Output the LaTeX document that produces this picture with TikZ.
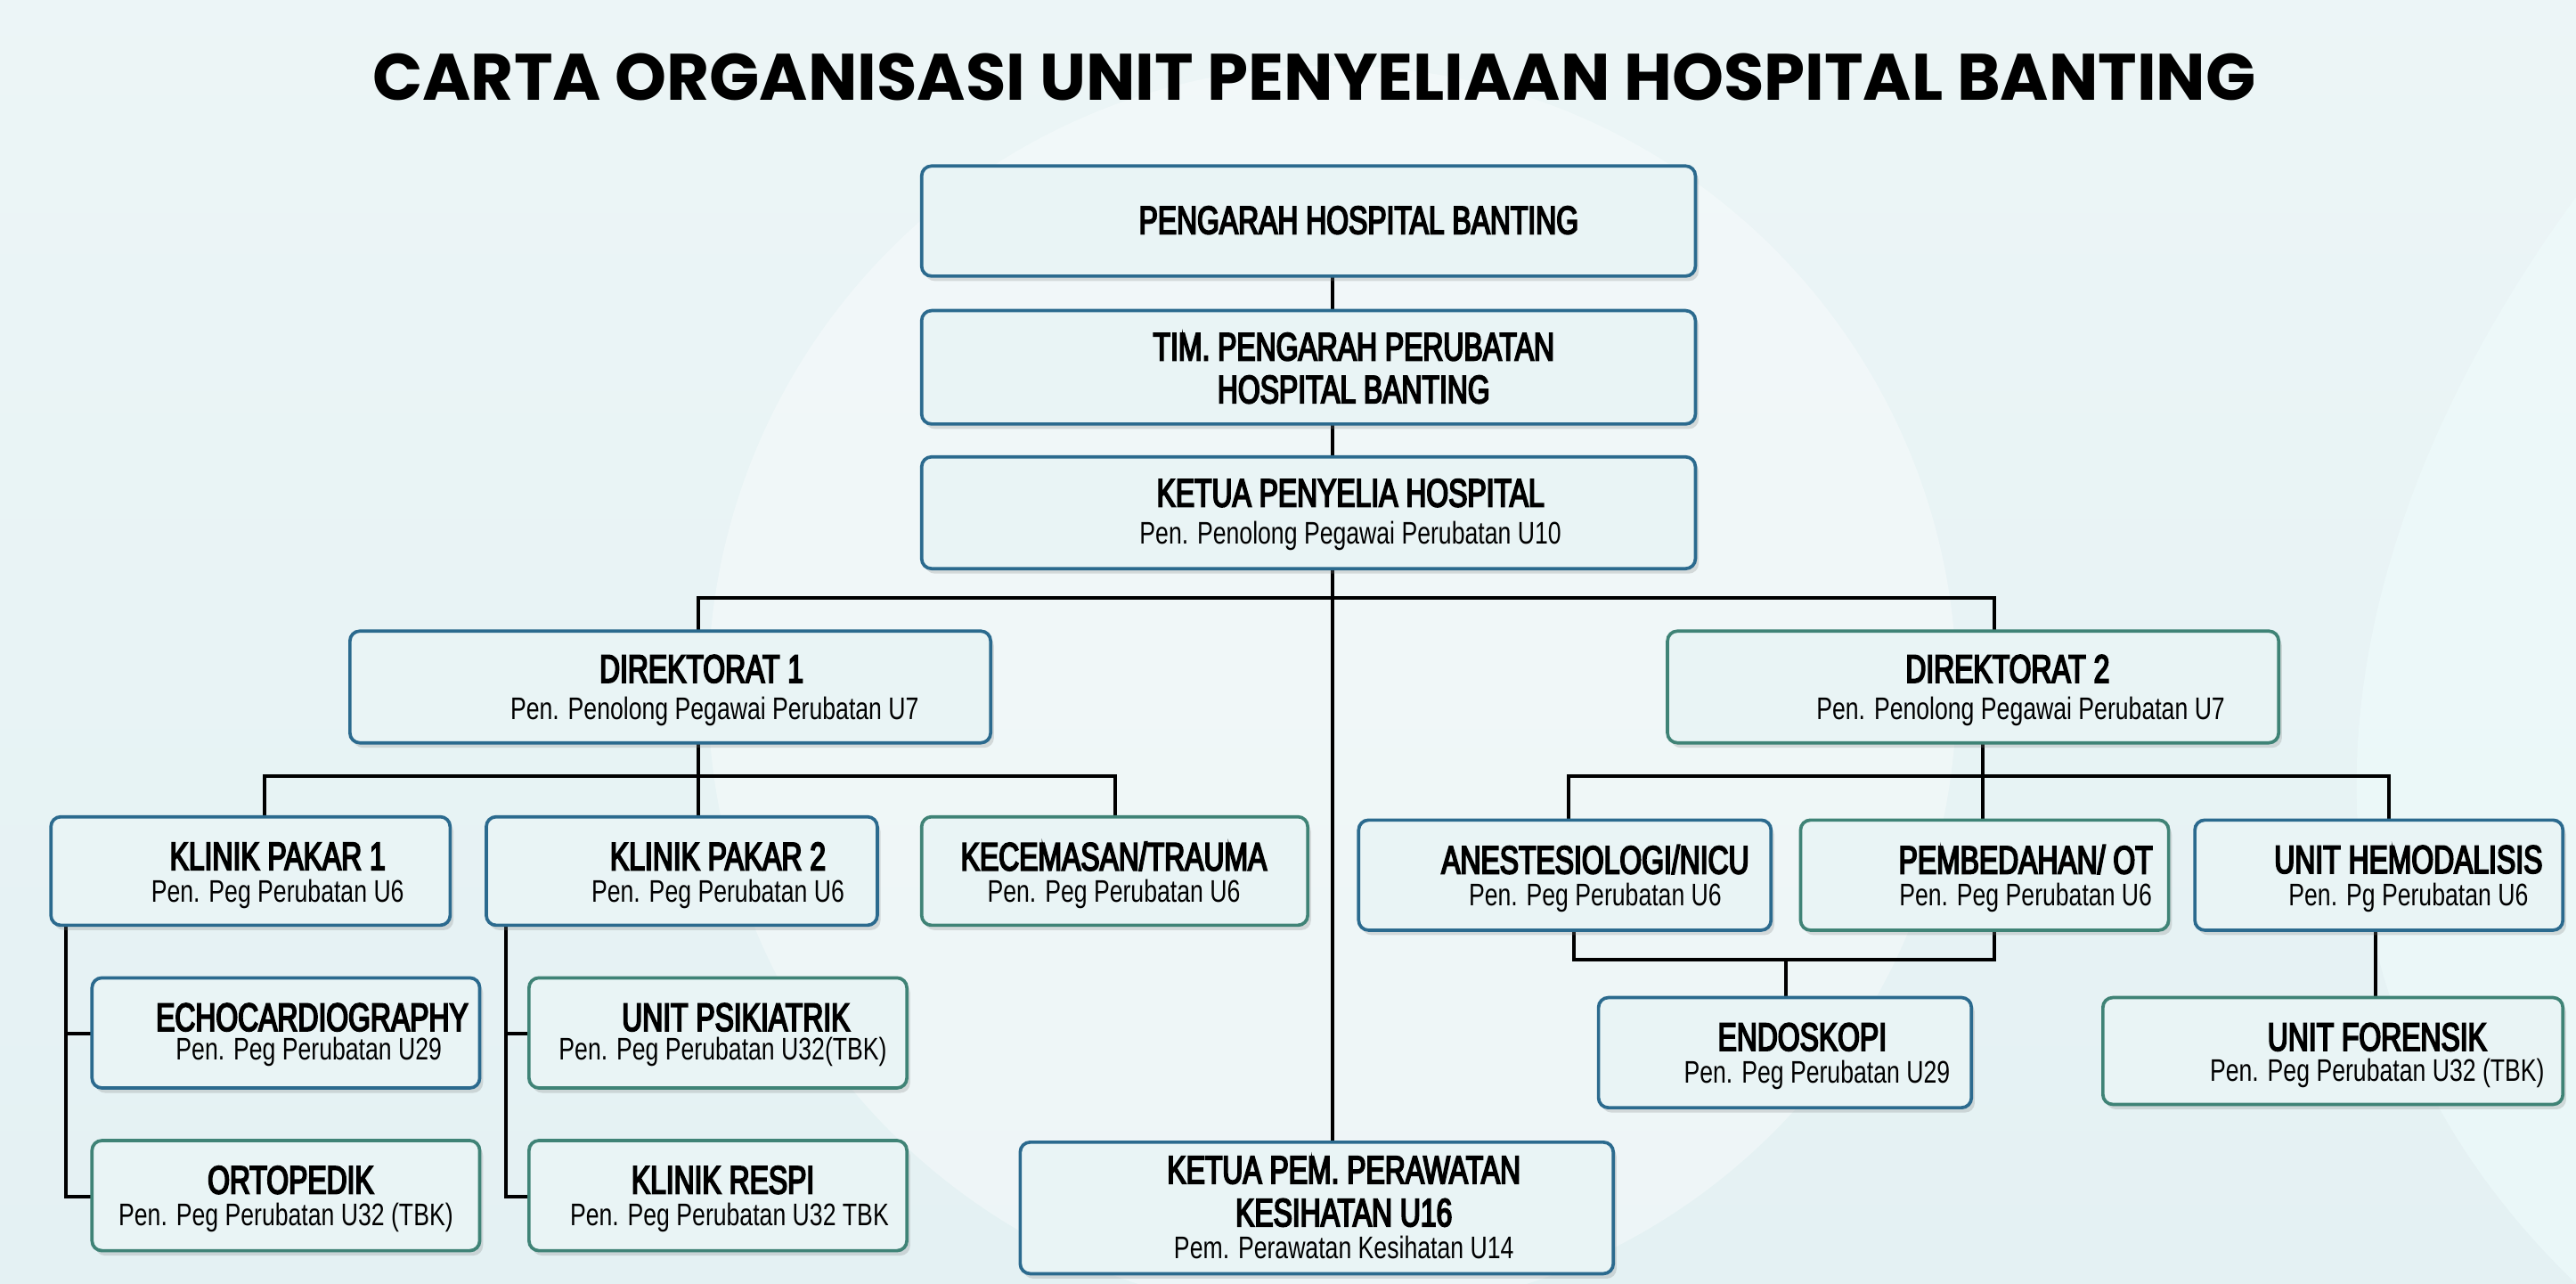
\documentclass[tikz,border=0pt]{standalone}
\usepackage{fontspec}
\setmainfont{Liberation Sans}[FakeStretch=0.76]
\newfontfamily\hdfont{Liberation Sans}[FakeStretch=0.72,FakeBold=4]
\newfontfamily\titlefont{Poppins}
\usetikzlibrary{shadows}
\definecolor{bgc}{HTML}{E4F1F3}
\definecolor{boxf}{HTML}{E9F4F5}
\definecolor{bord}{HTML}{2B6A8E}
\definecolor{bordg}{HTML}{3F8376}
\tikzset{
 box/.style={draw=bord,line width=2pt,fill=boxf,rounded corners=6pt,drop shadow={shadow xshift=2pt,shadow yshift=-3pt,opacity=0.25}},
 gbox/.style={box,draw=bordg},
 hd/.style={font=\hdfont\fontsize{24}{26}\selectfont,align=center},
 sb/.style={font=\fontsize{19}{21}\selectfont,align=center},
 ln/.style={line width=2.2pt,black}
}
\newcommand{\bx}[6]{%
 \path[#2] (#3,#4) rectangle (#5,#6);
}
\begin{document}
\begin{tikzpicture}[x=1pt,y=-1pt]
\useasboundingbox (0,0) rectangle (1568,781);
\shade[top color=bgc!70!white,bottom color=bgc] (0,0) rectangle (1568,781);
\fill[white,opacity=0.35] (811,420) circle (380);
\fill[bgc!80!cyan!20,opacity=0.5] (1568,120) .. controls (1400,350) and (1380,600) .. (1568,781) -- cycle;
\node[font=\titlefont\bfseries\fontsize{40}{42}\selectfont] (title) at (800,47) {CARTA ORGANISASI UNIT PENYELIAAN HOSPITAL BANTING};
% connectors
\draw[ln] (811,168) -- (811,189) (811,258) -- (811,278);
\draw[ln] (811,346) -- (811,695);
\draw[ln] (425,384) |- (1214,364) -- (1214,384);
\draw[ln] (161,497) |- (679,472) -- (679,497) (425,452) -- (425,497);
\draw[ln] (955,499) |- (1454,472) -- (1454,499) (1207,452) -- (1207,499);
\draw[ln] (40,563) |- (56,728) (40,629) -- (56,629);
\draw[ln] (308,563) |- (322,728) (308,629) -- (322,629);
\draw[ln] (958,566) |- (1214,584) -- (1214,566) (1087,584) -- (1087,607);
\draw[ln] (1446,566) -- (1446,607);
% boxes
\bx{a}{box}{561}{101}{1032}{168}
\node[hd] (pa) at (827,134) {PENGARAH HOSPITAL BANTING};
\bx{b}{box}{561}{189}{1032}{258}
\node[hd] (ti) at (824,224) {TIM. PENGARAH PERUBATAN\\HOSPITAL BANTING};
\bx{c}{box}{561}{278}{1032}{346}
\node[hd] (ke) at (822,300) {KETUA PENYELIA HOSPITAL};
\node[sb] (kes) at (822,326) {Pen. Penolong Pegawai Perubatan U10};
\bx{d1}{box}{213}{384}{603}{452}
\node[hd] (d1t) at (427,407) {DIREKTORAT 1};
\node[sb] (d1s) at (435,433) {Pen. Penolong Pegawai Perubatan U7};
\bx{d2}{gbox}{1015}{384}{1387}{452}
\node[hd] (d2t) at (1222,407) {DIREKTORAT 2};
\node[sb] (d2s) at (1230,433) {Pen. Penolong Pegawai Perubatan U7};
\newcommand{\ub}[8]{\bx{#1}{#2}{#3}{#4}{#5}{#6}
 \node[hd] (#1t) at ({#7},{#4+24}) {#8};}
\ub{k1}{box}{31}{497}{274}{563}{169}{KLINIK PAKAR 1}
\node[sb] (k1s) at (169,544) {Pen. Peg Perubatan U6};
\ub{k2}{box}{296}{497}{534}{563}{437}{KLINIK PAKAR 2}
\node[sb] (k2s) at (437,544) {Pen. Peg Perubatan U6};
\ub{kc}{gbox}{561}{497}{796}{563}{678}{KECEMASAN/TRAUMA}
\node[sb] (kcs) at (678,544) {Pen. Peg Perubatan U6};
\ub{ec}{box}{56}{595}{292}{662}{190}{ECHOCARDIOGRAPHY}
\node[sb] (ecs) at (188,640) {Pen. Peg Perubatan U29};
\ub{or}{gbox}{56}{694}{292}{761}{177}{ORTOPEDIK}
\node[sb] (ors) at (174,741) {Pen. Peg Perubatan U32 (TBK)};
\ub{ps}{gbox}{322}{595}{552}{662}{448}{UNIT PSIKIATRIK}
\node[sb] (pss) at (440,640) {Pen. Peg Perubatan U32(TBK)};
\ub{re}{gbox}{322}{694}{552}{761}{440}{KLINIK RESPI}
\node[sb] (res) at (444,741) {Pen. Peg Perubatan U32 TBK};
\bx{kp}{box}{621}{695}{982}{775}
\node[hd] (kpt) at (818,725) {KETUA PEM. PERAWATAN\\KESIHATAN U16};
\node[sb] (kps) at (818,759) {Pem. Perawatan Kesihatan U14};
\ub{an}{box}{827}{499}{1078}{566}{971}{ANESTESIOLOGI/NICU}
\node[sb] (ans) at (971,546) {Pen. Peg Perubatan U6};
\ub{pe}{gbox}{1096}{499}{1320}{566}{1233}{PEMBEDAHAN/ OT}
\node[sb] (pes) at (1233,546) {Pen. Peg Perubatan U6};
\ub{he}{box}{1336}{499}{1560}{566}{1466}{UNIT HEMODALISIS}
\node[sb] (hes) at (1466,546) {Pen. Pg Perubatan U6};
\ub{en}{box}{973}{607}{1200}{674}{1097}{ENDOSKOPI}
\node[sb] (ens) at (1106,654) {Pen. Peg Perubatan U29};
\ub{fo}{gbox}{1280}{607}{1560}{672}{1447}{UNIT FORENSIK}
\node[sb] (fos) at (1447,653) {Pen. Peg Perubatan U32 (TBK)};
\end{tikzpicture}
\end{document}
